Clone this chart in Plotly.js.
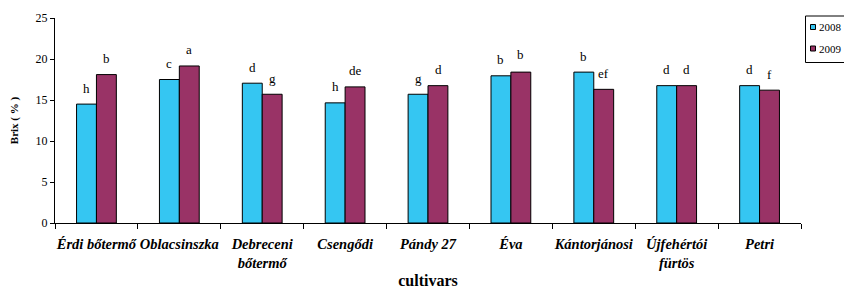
<!DOCTYPE html>
<html>
<head>
<meta charset="utf-8">
<script src="https://cdn.plot.ly/plotly-3.0.1.min.js"></script>
<style>html,body{margin:0;padding:0;background:#fff;}#chart{width:844px;height:289px;}</style>
</head>
<body>
<div id="chart"></div>
<script>
var cultivars = ["Érdi bőtermő", "Oblacsinszka", "Debreceni<br>bőtermő", "Csengődi", "Pándy 27", "Éva", "Kántorjánosi", "Újfehértói<br>fürtös", "Petri"];
var brix2008 = [14.5, 17.5, 17.05, 14.65, 15.7, 17.95, 18.4, 16.75, 16.75];
var brix2009 = [18.1, 19.15, 15.7, 16.6, 16.75, 18.4, 16.3, 16.75, 16.2];
var letters2008 = ["h", "c", "d", "h", "g", "b", "b", "d", "d"];
var letters2009 = ["b", "a", "g", "de", "d", "b", "ef", "d", "f"];
var years = ["2008", "2009"];
var colors = ["#35C6F2", "#993366"];

var serif = "Liberation Serif";

var traces = [
  {type: "bar", x: cultivars, y: brix2008, name: years[0], showlegend: false,
   marker: {color: colors[0], line: {color: "#000", width: 1}}, hoverinfo: "y"},
  {type: "bar", x: cultivars, y: brix2009, name: years[1], showlegend: false,
   marker: {color: colors[1], line: {color: "#000", width: 1}}, hoverinfo: "y"}
];

var annotations = [];
for (var i = 0; i < cultivars.length; i++) {
  annotations.push({x: cultivars[i], y: brix2008[i], text: letters2008[i], xref: "x", yref: "y",
    showarrow: false, xshift: -10, yshift: 16, font: {family: serif, size: 13, color: "#000"}});
  annotations.push({x: cultivars[i], y: brix2009[i], text: letters2009[i], xref: "x", yref: "y",
    showarrow: false, xshift: 10, yshift: (i === 5 ? 18 : 16), font: {family: serif, size: 13, color: "#000"}});
}

// manual legend (box, swatches, labels) in paper coordinates
function px2x(p) { return (p - 55) / 746; }
function px2y(p) { return (223 - p) / 205; }
var shapes = [
  {type: "rect", xref: "paper", yref: "paper", x0: px2x(805.5), x1: px2x(850), y0: px2y(62.5), y1: px2y(16),
   line: {color: "#000", width: 1}, fillcolor: "#fff"}
];
var legendY = [27, 48.5];
for (var k = 0; k < years.length; k++) {
  shapes.push({type: "rect", xref: "paper", yref: "paper",
    x0: px2x(810.5), x1: px2x(815.5), y0: px2y(legendY[k] + 2.5), y1: px2y(legendY[k] - 2.5),
    line: {color: "#000", width: 1}, fillcolor: colors[k]});
  annotations.push({xref: "paper", yref: "paper", x: px2x(816.5), y: px2y(legendY[k]),
    xanchor: "left", yanchor: "middle", text: years[k], showarrow: false,
    font: {family: serif, size: 11, color: "#000"}});
}

var layout = {
  width: 844, height: 289,
  margin: {l: 55, r: 43, t: 18, b: 66},
  paper_bgcolor: "#fff", plot_bgcolor: "#fff",
  barmode: "group", bargap: 0.52, bargroupgap: 0,
  font: {family: serif, color: "#000"},
  showlegend: false,
  xaxis: {
    type: "category", tickson: "boundaries", ticks: "outside", ticklen: 5, tickcolor: "#000",
    tickangle: 0, ticklabelstandoff: 8,
    showline: true, linecolor: "#000", linewidth: 1, showgrid: false, zeroline: false,
    tickfont: {family: serif, size: 14.5, color: "#000", weight: "bold", style: "italic"},
    title: {text: "<b>cultivars</b>", font: {family: serif, size: 16, color: "#000"}, standoff: 7},
    automargin: false, fixedrange: true
  },
  yaxis: {
    range: [0, 25], dtick: 5, ticks: "outside", ticklen: 4, tickcolor: "#000",
    showline: true, linecolor: "#000", linewidth: 1, showgrid: false, zeroline: false,
    tickfont: {family: serif, size: 12, color: "#000"},
    title: {text: "<b>Brix ( % )</b>", font: {family: serif, size: 11, color: "#000"}, standoff: 14},
    automargin: false, fixedrange: true
  },
  shapes: shapes,
  annotations: annotations
};

Plotly.newPlot("chart", traces, layout, {displayModeBar: false, staticPlot: true});
</script>
</body>
</html>
